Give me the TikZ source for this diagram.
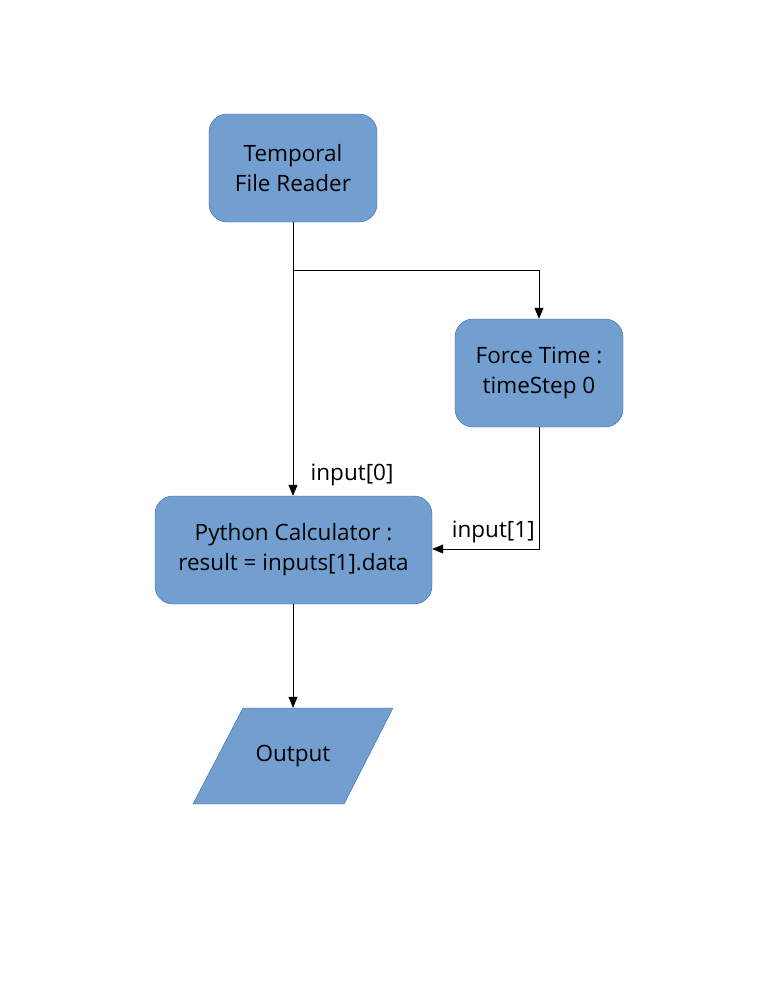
\documentclass[tikz,border=0pt]{standalone}
\usepackage{fontspec}
\setmainfont{Open Sans}
\usetikzlibrary{arrows.meta,shapes.geometric}
\definecolor{boxfill}{HTML}{729FCF}
\definecolor{boxdraw}{HTML}{3465A4}
\tikzset{
  proc/.style={draw=boxdraw, fill=boxfill, rounded corners=18pt, align=center, inner sep=0pt, font=\fontsize{22.5}{30}\selectfont},
  conn/.style={draw=black, line width=0.8pt, -{Triangle[length=11pt,width=9pt]}},
  lbl/.style={font=\fontsize{22.5}{26}\selectfont}
}
\begin{document}
\begin{tikzpicture}[x=1pt,y=-1pt]
\useasboundingbox (0,0) rectangle (774,1001);
\node[proc, minimum width=168pt, minimum height=108pt] (tfr) at (293,168) {Temporal\\File Reader};
\node[proc, minimum width=168pt, minimum height=108pt] (ft) at (539,373) {Force Time :\\ timeStep 0};
\node[proc, minimum width=277pt, minimum height=108pt] (pc) at (293.5,550) {Python Calculator :\\result = inputs[1].data};
\fill[boxfill, draw=boxdraw] (243,708) -- (393,708) -- (344,804) -- (193,804) -- cycle;
\node[inner sep=0pt, minimum width=150pt, minimum height=96pt, font=\fontsize{22.5}{26}\selectfont] (out) at (293,756) {Output};
\coordinate (split) at (293,270);
\draw[line width=0.8pt] (tfr.south) -- (split);
\draw[conn] (split) -- (pc.north -| split) node[lbl, pos=1, anchor=south west, xshift=14pt, yshift=6pt] {input[0]};
\draw[conn] (split) -| (ft.north);
\coordinate (bend) at (539,549);
\draw[conn] (ft.south) -- (bend) -- (pc.east |- bend) node[lbl, pos=1, anchor=south west, xshift=16pt, yshift=2pt] {input[1]};
\draw[conn] (pc.south -| out.north) -- (out.north);
\end{tikzpicture}
\end{document}
